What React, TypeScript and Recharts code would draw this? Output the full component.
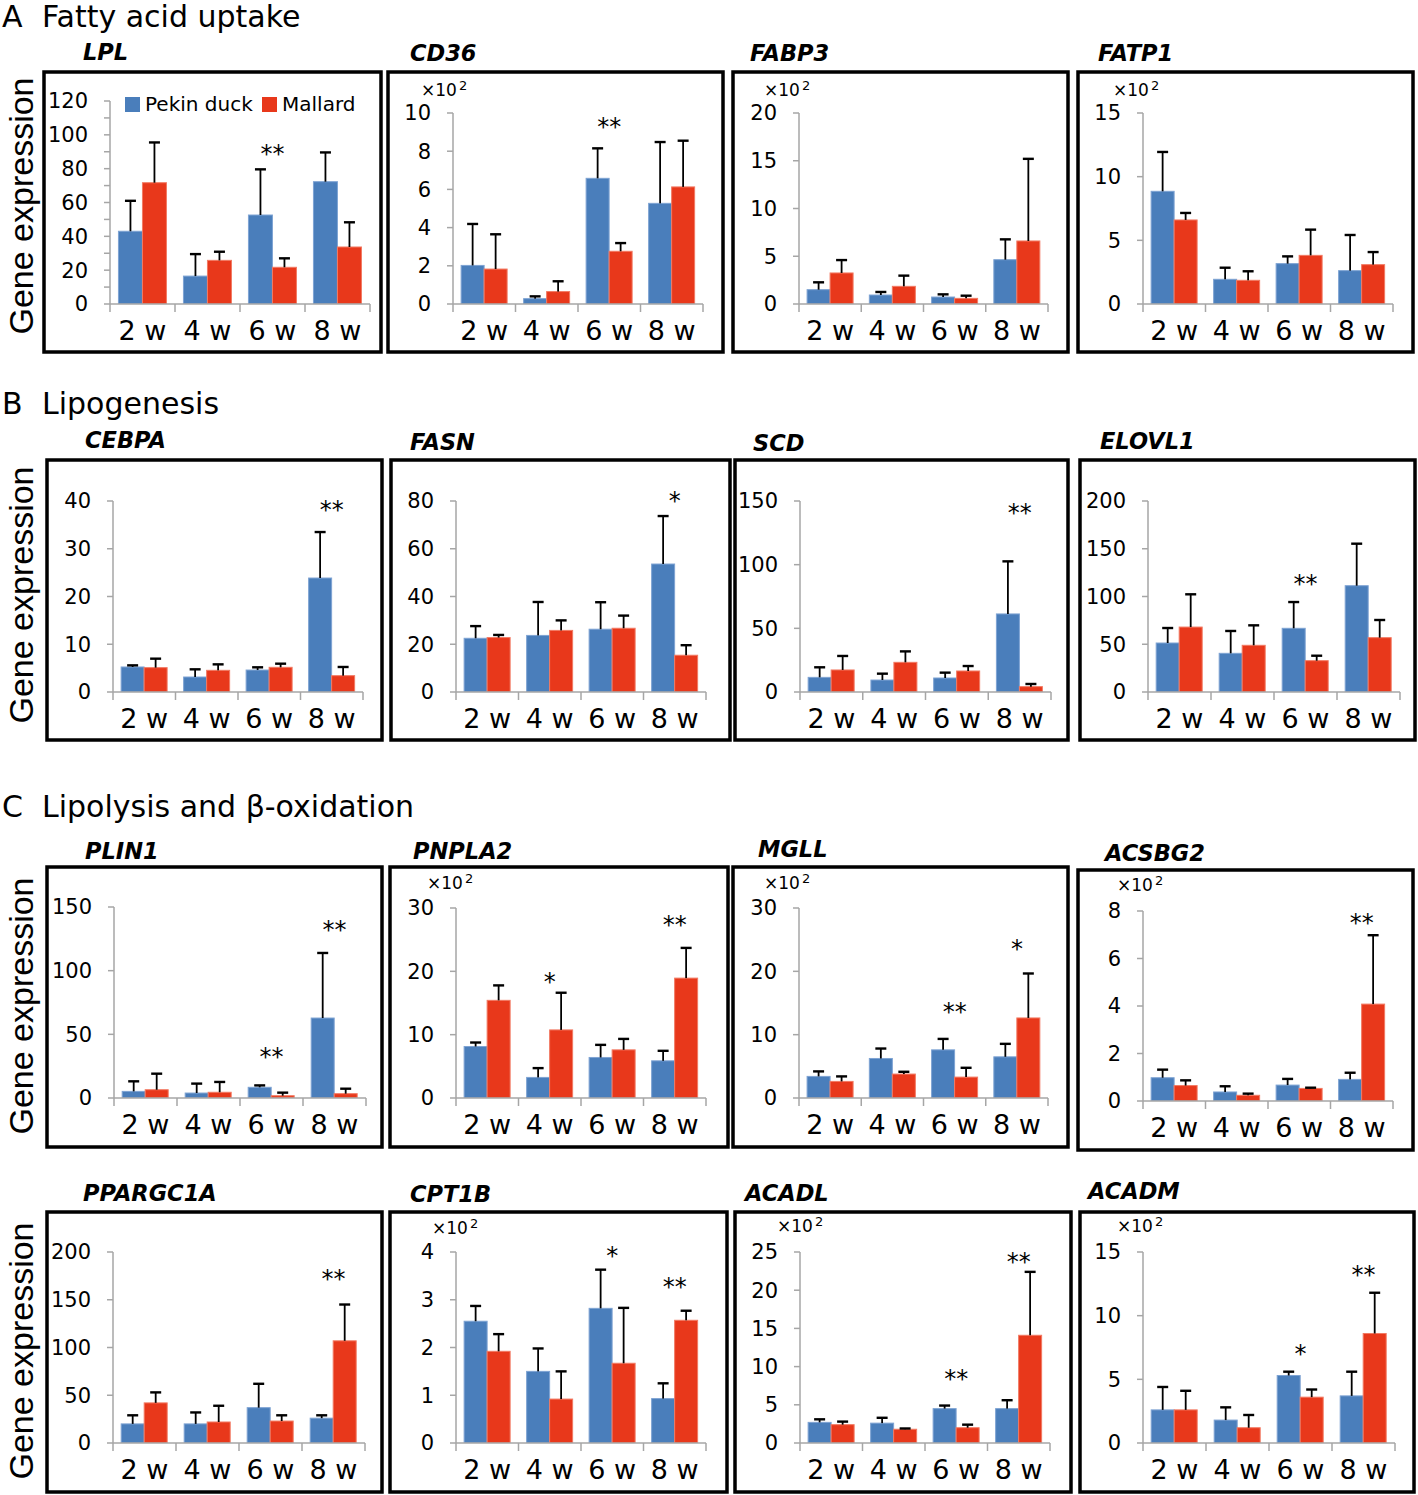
import React from 'react';
import { BarChart, Bar, XAxis, YAxis, ReferenceDot } from 'recharts';

const WEEKS = ['2 w', '4 w', '6 w', '8 w'];
const SERIES_NAMES = ['Pekin duck', 'Mallard'];

// ---- A. Fatty acid uptake ----
const LPL_PEKIN = [43, 16.5, 52.6, 72.3];
const LPL_PEKIN_SD = [18, 13, 27, 17.3];
const LPL_MALLARD = [71.7, 25.8, 21.7, 33.7];
const LPL_MALLARD_SD = [23.8, 5.1, 5.3, 14.6];
const LPL_SIG = ['', '', '**', ''];
const LPL_SIG_Y = [0, 0, 92, 0];
const LPL_TICKS = [0, 10, 20, 30, 40, 50, 60, 70, 80, 90, 100, 110, 120];

const CD36_PEKIN = [2.02, 0.28, 6.58, 5.27];
const CD36_PEKIN_SD = [2.17, 0.12, 1.57, 3.21];
const CD36_MALLARD = [1.83, 0.65, 2.76, 6.13];
const CD36_MALLARD_SD = [1.82, 0.54, 0.43, 2.42];
const CD36_SIG = ['', '', '**', ''];
const CD36_SIG_Y = [0, 0, 9.6, 0];
const CD36_TICKS = [0, 2, 4, 6, 8, 10];

const FABP3_PEKIN = [1.5, 0.94, 0.73, 4.64];
const FABP3_PEKIN_SD = [0.77, 0.32, 0.28, 2.13];
const FABP3_MALLARD = [3.25, 1.85, 0.59, 6.6];
const FABP3_MALLARD_SD = [1.35, 1.12, 0.28, 8.6];
const FABP3_SIG = ['', '', '', ''];
const FABP3_SIG_Y = [0, 0, 0, 0];
const FABP3_TICKS = [0, 5, 10, 15, 20];

const FATP1_PEKIN = [8.85, 1.94, 3.17, 2.62];
const FATP1_PEKIN_SD = [3.09, 0.91, 0.57, 2.8];
const FATP1_MALLARD = [6.6, 1.86, 3.82, 3.09];
const FATP1_MALLARD_SD = [0.55, 0.71, 2.02, 0.99];
const FATP1_SIG = ['', '', '', ''];
const FATP1_SIG_Y = [0, 0, 0, 0];
const FATP1_TICKS = [0, 5, 10, 15];

// ---- B. Lipogenesis ----
const CEBPA_PEKIN = [5.24, 3.14, 4.6, 23.87];
const CEBPA_PEKIN_SD = [0.34, 1.61, 0.57, 9.63];
const CEBPA_MALLARD = [5.1, 4.54, 5.17, 3.42];
const CEBPA_MALLARD_SD = [1.88, 1.25, 0.76, 1.82];
const CEBPA_SIG = ['', '', '', '**'];
const CEBPA_SIG_Y = [0, 0, 0, 39.4];
const CEBPA_TICKS = [0, 10, 20, 30, 40];

const FASN_PEKIN = [22.5, 23.7, 26.3, 53.6];
const FASN_PEKIN_SD = [5.1, 14, 11.3, 20.1];
const FASN_MALLARD = [22.8, 25.8, 26.7, 15.4];
const FASN_MALLARD_SD = [1.1, 4.2, 5.3, 4.2];
const FASN_SIG = ['', '', '', '*'];
const FASN_SIG_Y = [0, 0, 0, 82.5];
const FASN_TICKS = [0, 20, 40, 60, 80];

const SCD_PEKIN = [11.5, 9.4, 11, 61.3];
const SCD_PEKIN_SD = [7.9, 5, 4.2, 41.3];
const SCD_MALLARD = [17.3, 23.3, 16.5, 4.2];
const SCD_MALLARD_SD = [11, 8.6, 3.9, 2.1];
const SCD_SIG = ['', '', '', '**'];
const SCD_SIG_Y = [0, 0, 0, 145];
const SCD_TICKS = [0, 50, 100, 150];

const ELOVL1_PEKIN = [51.3, 40.5, 66.7, 111.3];
const ELOVL1_PEKIN_SD = [15.7, 23.4, 27.5, 44];
const ELOVL1_MALLARD = [68, 48.9, 32.8, 56.9];
const ELOVL1_MALLARD_SD = [34.3, 20.9, 5.2, 18.5];
const ELOVL1_SIG = ['', '', '**', ''];
const ELOVL1_SIG_Y = [0, 0, 119, 0];
const ELOVL1_TICKS = [0, 50, 100, 150, 200];

// ---- C. Lipolysis and beta-oxidation ----
const PLIN1_PEKIN = [5.2, 3.9, 8.4, 62.8];
const PLIN1_PEKIN_SD = [7.9, 7.4, 1.5, 51.1];
const PLIN1_MALLARD = [6.5, 4.5, 1.8, 3.4];
const PLIN1_MALLARD_SD = [12.6, 8.1, 2.4, 3.9];
const PLIN1_SIG = ['', '', '**', '**'];
const PLIN1_SIG_Y = [0, 0, 37, 137];
const PLIN1_TICKS = [0, 50, 100, 150];

const PNPLA2_PEKIN = [8.13, 3.25, 6.4, 5.87];
const PNPLA2_PEKIN_SD = [0.63, 1.47, 1.99, 1.58];
const PNPLA2_MALLARD = [15.42, 10.75, 7.6, 18.93];
const PNPLA2_MALLARD_SD = [2.36, 5.87, 1.73, 4.77];
const PNPLA2_SIG = ['', '*', '', '**'];
const PNPLA2_SIG_Y = [0, 19.3, 0, 28.3];
const PNPLA2_TICKS = [0, 10, 20, 30];

const MGLL_PEKIN = [3.41, 6.24, 7.6, 6.5];
const MGLL_PEKIN_SD = [0.79, 1.57, 1.73, 2.05];
const MGLL_MALLARD = [2.62, 3.78, 3.3, 12.64];
const MGLL_MALLARD_SD = [0.79, 0.36, 1.47, 7.02];
const MGLL_SIG = ['', '', '**', '*'];
const MGLL_SIG_Y = [0, 0, 14.5, 24.5];
const MGLL_TICKS = [0, 10, 20, 30];

const ACSBG2_PEKIN = [0.98, 0.38, 0.67, 0.91];
const ACSBG2_PEKIN_SD = [0.34, 0.24, 0.26, 0.28];
const ACSBG2_MALLARD = [0.65, 0.24, 0.53, 4.08];
const ACSBG2_MALLARD_SD = [0.22, 0.07, 0.03, 2.9];
const ACSBG2_SIG = ['', '', '', '**'];
const ACSBG2_SIG_Y = [0, 0, 0, 7.75];
const ACSBG2_TICKS = [0, 2, 4, 6, 8];

const PPARGC1A_PEKIN = [20, 20, 37, 26];
const PPARGC1A_PEKIN_SD = [9, 12, 25, 3];
const PPARGC1A_MALLARD = [42, 22, 23, 107];
const PPARGC1A_MALLARD_SD = [11, 17, 6, 38];
const PPARGC1A_SIG = ['', '', '', '**'];
const PPARGC1A_SIG_Y = [0, 0, 0, 178];
const PPARGC1A_TICKS = [0, 50, 100, 150, 200];

const CPT1B_PEKIN = [2.55, 1.5, 2.82, 0.93];
const CPT1B_PEKIN_SD = [0.32, 0.48, 0.81, 0.32];
const CPT1B_MALLARD = [1.92, 0.92, 1.67, 2.57];
const CPT1B_MALLARD_SD = [0.36, 0.58, 1.16, 0.2];
const CPT1B_SIG = ['', '', '*', '**'];
const CPT1B_SIG_Y = [0, 0, 4.04, 3.39];
const CPT1B_TICKS = [0, 1, 2, 3, 4];

const ACADL_PEKIN = [2.7, 2.6, 4.5, 4.5];
const ACADL_PEKIN_SD = [0.4, 0.7, 0.4, 1.1];
const ACADL_MALLARD = [2.4, 1.8, 2.0, 14.1];
const ACADL_MALLARD_SD = [0.4, 0.1, 0.4, 8.3];
const ACADL_SIG = ['', '', '**', '**'];
const ACADL_SIG_Y = [0, 0, 9.2, 24.5];
const ACADL_TICKS = [0, 5, 10, 15, 20, 25];

const ACADM_PEKIN = [2.6, 1.8, 5.3, 3.7];
const ACADM_PEKIN_SD = [1.8, 1.0, 0.3, 1.9];
const ACADM_MALLARD = [2.6, 1.2, 3.6, 8.6];
const ACADM_MALLARD_SD = [1.5, 1.0, 0.6, 3.2];
const ACADM_SIG = ['', '', '*', '**'];
const ACADM_SIG_Y = [0, 0, 7.5, 13.7];
const ACADM_TICKS = [0, 5, 10, 15];

// ---- styling ----
const FONT = "'DejaVu Sans', sans-serif";
const BLUE = '#4a7ebb';
const BLUE_EDGE = '#7ea3d3';
const RED = '#e8381b';
const RED_EDGE = '#f27a63';
const AXIS = '#a6a6a6';

type PanelCfg = {
  name: string;
  pekin: number[]; pekinSd: number[]; mallard: number[]; mallardSd: number[];
  sig: string[]; sigY: number[]; ticks: number[]; labelStep?: number;
  x10: boolean; legend?: boolean;
  box: number[]; plot: number[]; title: number[]; x10pos?: number[];
};

const PANELS: PanelCfg[] = [
  { name: 'LPL', pekin: LPL_PEKIN, pekinSd: LPL_PEKIN_SD, mallard: LPL_MALLARD, mallardSd: LPL_MALLARD_SD, sig: LPL_SIG, sigY: LPL_SIG_Y, ticks: LPL_TICKS, labelStep: 20, x10: false, legend: true,
    box: [44, 72, 381, 352], plot: [110, 101, 370, 304], title: [83, 52] },
  { name: 'CD36', pekin: CD36_PEKIN, pekinSd: CD36_PEKIN_SD, mallard: CD36_MALLARD, mallardSd: CD36_MALLARD_SD, sig: CD36_SIG, sigY: CD36_SIG_Y, ticks: CD36_TICKS, x10: true,
    box: [388, 72, 723, 352], plot: [453, 113, 703, 304], title: [410, 53], x10pos: [421, 90] },
  { name: 'FABP3', pekin: FABP3_PEKIN, pekinSd: FABP3_PEKIN_SD, mallard: FABP3_MALLARD, mallardSd: FABP3_MALLARD_SD, sig: FABP3_SIG, sigY: FABP3_SIG_Y, ticks: FABP3_TICKS, x10: true,
    box: [733, 72, 1068, 352], plot: [799, 113, 1048, 304], title: [750, 53], x10pos: [764, 90] },
  { name: 'FATP1', pekin: FATP1_PEKIN, pekinSd: FATP1_PEKIN_SD, mallard: FATP1_MALLARD, mallardSd: FATP1_MALLARD_SD, sig: FATP1_SIG, sigY: FATP1_SIG_Y, ticks: FATP1_TICKS, x10: true,
    box: [1078, 72, 1413, 352], plot: [1143, 113, 1393, 304], title: [1098, 53], x10pos: [1113, 90] },

  { name: 'CEBPA', pekin: CEBPA_PEKIN, pekinSd: CEBPA_PEKIN_SD, mallard: CEBPA_MALLARD, mallardSd: CEBPA_MALLARD_SD, sig: CEBPA_SIG, sigY: CEBPA_SIG_Y, ticks: CEBPA_TICKS, x10: false,
    box: [47, 460, 382, 740], plot: [113, 501, 363, 692], title: [85, 440] },
  { name: 'FASN', pekin: FASN_PEKIN, pekinSd: FASN_PEKIN_SD, mallard: FASN_MALLARD, mallardSd: FASN_MALLARD_SD, sig: FASN_SIG, sigY: FASN_SIG_Y, ticks: FASN_TICKS, x10: false,
    box: [391, 460, 730, 740], plot: [456, 501, 706, 692], title: [410, 442] },
  { name: 'SCD', pekin: SCD_PEKIN, pekinSd: SCD_PEKIN_SD, mallard: SCD_MALLARD, mallardSd: SCD_MALLARD_SD, sig: SCD_SIG, sigY: SCD_SIG_Y, ticks: SCD_TICKS, x10: false,
    box: [735, 460, 1068, 740], plot: [800, 501, 1051, 692], title: [753, 443] },
  { name: 'ELOVL1', pekin: ELOVL1_PEKIN, pekinSd: ELOVL1_PEKIN_SD, mallard: ELOVL1_MALLARD, mallardSd: ELOVL1_MALLARD_SD, sig: ELOVL1_SIG, sigY: ELOVL1_SIG_Y, ticks: ELOVL1_TICKS, x10: false,
    box: [1080, 460, 1415, 740], plot: [1148, 501, 1400, 692], title: [1100, 441] },

  { name: 'PLIN1', pekin: PLIN1_PEKIN, pekinSd: PLIN1_PEKIN_SD, mallard: PLIN1_MALLARD, mallardSd: PLIN1_MALLARD_SD, sig: PLIN1_SIG, sigY: PLIN1_SIG_Y, ticks: PLIN1_TICKS, x10: false,
    box: [47, 867, 382, 1147], plot: [114, 907, 366, 1098], title: [85, 851] },
  { name: 'PNPLA2', pekin: PNPLA2_PEKIN, pekinSd: PNPLA2_PEKIN_SD, mallard: PNPLA2_MALLARD, mallardSd: PNPLA2_MALLARD_SD, sig: PNPLA2_SIG, sigY: PNPLA2_SIG_Y, ticks: PNPLA2_TICKS, x10: true,
    box: [390, 867, 728, 1147], plot: [456, 908, 706, 1098], title: [413, 851], x10pos: [427, 883] },
  { name: 'MGLL', pekin: MGLL_PEKIN, pekinSd: MGLL_PEKIN_SD, mallard: MGLL_MALLARD, mallardSd: MGLL_MALLARD_SD, sig: MGLL_SIG, sigY: MGLL_SIG_Y, ticks: MGLL_TICKS, x10: true,
    box: [733, 867, 1068, 1147], plot: [799, 908, 1048, 1098], title: [758, 849], x10pos: [764, 883] },
  { name: 'ACSBG2', pekin: ACSBG2_PEKIN, pekinSd: ACSBG2_PEKIN_SD, mallard: ACSBG2_MALLARD, mallardSd: ACSBG2_MALLARD_SD, sig: ACSBG2_SIG, sigY: ACSBG2_SIG_Y, ticks: ACSBG2_TICKS, x10: true,
    box: [1078, 870, 1413, 1150], plot: [1143, 911, 1393, 1101], title: [1105, 853], x10pos: [1117, 885] },

  { name: 'PPARGC1A', pekin: PPARGC1A_PEKIN, pekinSd: PPARGC1A_PEKIN_SD, mallard: PPARGC1A_MALLARD, mallardSd: PPARGC1A_MALLARD_SD, sig: PPARGC1A_SIG, sigY: PPARGC1A_SIG_Y, ticks: PPARGC1A_TICKS, x10: false,
    box: [47, 1212, 382, 1492], plot: [113, 1252, 365, 1443], title: [83, 1193] },
  { name: 'CPT1B', pekin: CPT1B_PEKIN, pekinSd: CPT1B_PEKIN_SD, mallard: CPT1B_MALLARD, mallardSd: CPT1B_MALLARD_SD, sig: CPT1B_SIG, sigY: CPT1B_SIG_Y, ticks: CPT1B_TICKS, x10: true,
    box: [390, 1212, 727, 1492], plot: [456, 1252, 706, 1443], title: [410, 1194], x10pos: [432, 1228] },
  { name: 'ACADL', pekin: ACADL_PEKIN, pekinSd: ACADL_PEKIN_SD, mallard: ACADL_MALLARD, mallardSd: ACADL_MALLARD_SD, sig: ACADL_SIG, sigY: ACADL_SIG_Y, ticks: ACADL_TICKS, x10: true,
    box: [735, 1212, 1071, 1492], plot: [800, 1252, 1050, 1443], title: [745, 1193], x10pos: [777, 1226] },
  { name: 'ACADM', pekin: ACADM_PEKIN, pekinSd: ACADM_PEKIN_SD, mallard: ACADM_MALLARD, mallardSd: ACADM_MALLARD_SD, sig: ACADM_SIG, sigY: ACADM_SIG_Y, ticks: ACADM_TICKS, x10: true,
    box: [1080, 1212, 1414, 1492], plot: [1143, 1252, 1395, 1443], title: [1088, 1191], x10pos: [1117, 1226] },
];

const SECTIONS = [
  { letter: 'A', text: 'Fatty acid uptake', y: 27 },
  { letter: 'B', text: 'Lipogenesis', y: 414 },
  { letter: 'C', text: 'Lipolysis and β-oxidation', y: 817 },
];
const YLABEL_CENTERS = [206, 595, 1006, 1351];

const barShape = (valueKey: string, sdKey: string, fill: string, stroke: string) => (props: any) => {
  const { x, y, width, height, payload } = props;
  const v = payload[valueKey];
  const sd = payload[sdKey];
  const pxPerUnit = v > 0 ? height / v : 0;
  const cx = x + width / 2;
  const top = y - sd * pxPerUnit;
  return (
    <g>
      <rect x={x} y={y} width={width} height={height} fill={fill} stroke={stroke} strokeWidth={1} />
      <line x1={cx} x2={cx} y1={y} y2={top} stroke="#000" strokeWidth={1.8} />
      <line x1={cx - 5.5} x2={cx + 5.5} y1={top} y2={top} stroke="#000" strokeWidth={2.4} />
    </g>
  );
};

function Panel({ p }: { p: PanelCfg }) {
  const data = WEEKS.map((w, i) => ({
    week: w,
    pekin: p.pekin[i],
    pekinSd: p.pekinSd[i],
    mallard: p.mallard[i],
    mallardSd: p.mallardSd[i],
  }));
  const [pl, pt, pr, pb] = p.plot;
  const plotW = pr - pl;
  const plotH = pb - pt;
  const ML = 10, MT = 45, MR = 25, MB = 10, YW = 60, XH = 40;
  const width = plotW + ML + YW + MR;
  const height = plotH + MT + MB + XH;
  const left = pl - ML - YW;
  const top = pt - MT;
  const bw = plotW / WEEKS.length;
  const max = p.ticks[p.ticks.length - 1];
  const step = p.labelStep;

  const xTick = (props: any) => {
    const { x, y, payload, index } = props;
    return (
      <g>
        <line x1={x - bw / 2} x2={x - bw / 2} y1={y} y2={y + 8} stroke={AXIS} strokeWidth={1.5} />
        {index === WEEKS.length - 1 && (
          <line x1={x + bw / 2} x2={x + bw / 2} y1={y} y2={y + 8} stroke={AXIS} strokeWidth={1.5} />
        )}
        <text x={x} y={y + 36} textAnchor="middle" fontSize={27} fontFamily={FONT} fill="#000">
          {payload.value}
        </text>
      </g>
    );
  };

  return (
    <div style={{ position: 'absolute', left, top, width, height }}>
      <BarChart
        width={width}
        height={height}
        data={data}
        margin={{ top: MT, right: MR, bottom: MB, left: ML }}
        barCategoryGap="13%"
        barGap={0}
      >
        <XAxis
          dataKey="week"
          height={XH}
          interval={0}
          tickLine={false}
          tickSize={0}
          tickMargin={0}
          axisLine={{ stroke: AXIS, strokeWidth: 1.5 }}
          tick={xTick}
        />
        <YAxis
          width={YW}
          domain={[0, max]}
          ticks={p.ticks}
          interval={0}
          allowDataOverflow
          tickSize={6}
          tickMargin={16}
          tickLine={{ stroke: AXIS, strokeWidth: 1.5 }}
          axisLine={{ stroke: AXIS, strokeWidth: 1.5 }}
          tick={{ fontSize: 21, fill: '#000', fontFamily: FONT }}
          tickFormatter={(v: number) => (step && v % step !== 0 ? '' : String(v))}
        />
        <Bar
          dataKey="pekin"
          name={SERIES_NAMES[0]}
          fill={BLUE}
          isAnimationActive={false}
          shape={barShape('pekin', 'pekinSd', BLUE, BLUE_EDGE)}
        />
        <Bar
          dataKey="mallard"
          name={SERIES_NAMES[1]}
          fill={RED}
          isAnimationActive={false}
          shape={barShape('mallard', 'mallardSd', RED, RED_EDGE)}
        />
        {p.sig.map((s, i) =>
          s ? (
            <ReferenceDot
              key={i}
              x={WEEKS[i]}
              y={p.sigY[i]}
              r={0}
              ifOverflow="visible"
              shape={(sp: any) => (
                <text x={sp.cx} y={sp.cy + 14} textAnchor="middle" fontSize={24} fontFamily={FONT} fill="#000">
                  {s}
                </text>
              )}
            />
          ) : null
        )}
      </BarChart>
    </div>
  );
}

function Overlay() {
  return (
    <svg width={1418} height={1495} style={{ position: 'absolute', left: 0, top: 0 }}>
      {SECTIONS.map((s) => (
        <g key={s.letter}>
          <text x={2} y={s.y} fontSize={30} fontFamily={FONT} fill="#000">{s.letter}</text>
          <text x={42} y={s.y} fontSize={30} fontFamily={FONT} fill="#000">{s.text}</text>
        </g>
      ))}
      {YLABEL_CENTERS.map((cy, i) => (
        <text
          key={i}
          x={0}
          y={0}
          transform={`translate(33, ${cy}) rotate(-90)`}
          textAnchor="middle"
          fontSize={34}
          fontFamily="'Liberation Sans', Arial, sans-serif"
          fill="#000"
        >
          Gene expression
        </text>
      ))}
      {PANELS.map((p) => {
        const [l, t, r, b] = p.box;
        return (
          <g key={p.name}>
            <rect x={l} y={t} width={r - l} height={b - t} fill="none" stroke="#000" strokeWidth={3.5} />
            <text
              x={p.title[0]}
              y={p.title[1] + 8}
              fontSize={22.5}
              fontWeight="bold"
              fontStyle="italic"
              fontFamily={FONT}
              fill="#000"
            >
              {p.name}
            </text>
            {p.x10 && p.x10pos && (
              <text x={p.x10pos[0]} y={p.x10pos[1] + 6} fontSize={17} fontFamily={FONT} fill="#000">
                ×10
                <tspan fontSize={13} dy={-6} dx={2}>2</tspan>
              </text>
            )}
            {p.legend && (
              <g>
                <rect x={125} y={97} width={15} height={15} fill={BLUE} />
                <text x={145} y={111} fontSize={20} fontFamily={FONT} fill="#000">{SERIES_NAMES[0]}</text>
                <rect x={262} y={97} width={15} height={15} fill={RED} />
                <text x={282} y={111} fontSize={20} fontFamily={FONT} fill="#000">{SERIES_NAMES[1]}</text>
              </g>
            )}
          </g>
        );
      })}
    </svg>
  );
}

export default function App() {
  return (
    <div style={{ position: 'absolute', left: 0, top: 0, width: 1418, height: 1495, background: '#fff' }}>
      <Overlay />
      {PANELS.map((p) => (
        <Panel key={p.name} p={p} />
      ))}
    </div>
  );
}
